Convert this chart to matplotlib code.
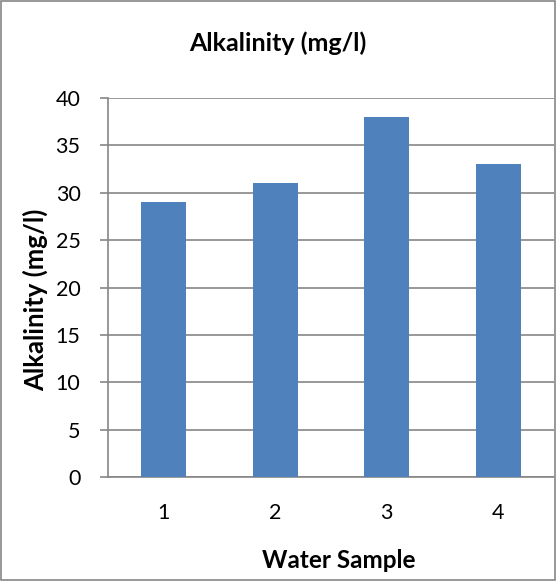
import matplotlib.pyplot as plt
from matplotlib.patches import Rectangle

# Datos de alcalinidad por muestra
muestras = ["1", "2", "3", "4"]
alcalinidad = [29, 31, 38, 33]

plt.rcParams['font.family'] = ['Lato', 'DejaVu Sans']

fig = plt.figure(figsize=(5.56, 5.81), dpi=100)
ax = fig.add_axes([108 / 556, (581 - 477) / 581, (554 - 108) / 556, (477 - 98) / 581])

ax.bar(range(len(muestras)), alcalinidad, width=0.4, color="#4F81BD", zorder=3)

ax.set_xlim(-0.5, len(muestras) - 0.5)
ax.set_ylim(0, 40)
ax.set_yticks(range(0, 41, 5))
ax.set_xticks(range(len(muestras)))
ax.set_xticklabels(muestras)

ax.grid(axis='y', color='#868686', linewidth=1.2, zorder=0)
for lado in ['top', 'right']:
    ax.spines[lado].set_visible(False)
for lado in ['left', 'bottom']:
    ax.spines[lado].set_color('#868686')
    ax.spines[lado].set_linewidth(1.2)
ax.tick_params(axis='y', length=5.8, color='#868686', width=1.2, labelsize=15.5, pad=14)
ax.tick_params(axis='x', length=0, labelsize=15.5, pad=19)

# Titulo centrado en la figura, no en el area de trazado
ax.set_title("Alkalinity (mg/l)", fontsize=18, fontweight='bold', pad=34,
             x=(278 - 108) / 446)
ax.set_ylabel("Alkalinity (mg/l)", fontsize=18.5, fontweight='bold', va='center')
ax.set_xlabel("Water Sample", fontsize=17.5, fontweight='bold', va='center')
ax.yaxis.set_label_coords((35 - 108) / 446, (477 - 300) / 379)
ax.xaxis.set_label_coords((339 - 108) / 446, (477 - 561) / 379)

# Marco exterior del grafico
fig.patches.append(Rectangle((0.002, 0.002), 0.996, 0.996, transform=fig.transFigure,
                             fill=False, edgecolor='#868686', linewidth=1.2))

plt.savefig("out.png", dpi=100)
